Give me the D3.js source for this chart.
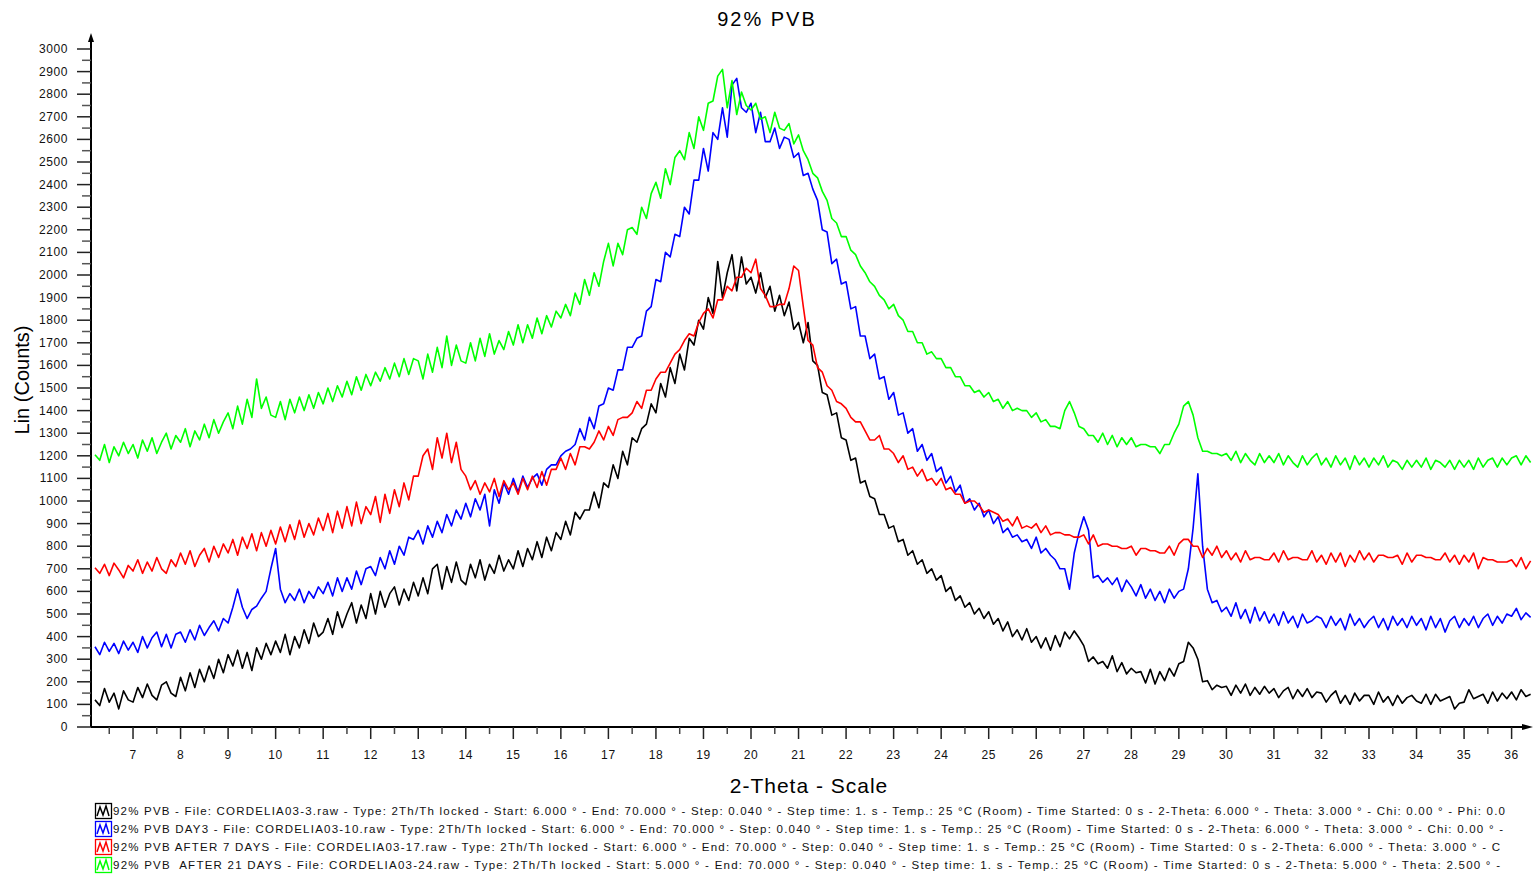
<!DOCTYPE html>
<html>
<head>
<meta charset="utf-8">
<script src="https://cdn.jsdelivr.net/npm/d3@7"></script>
<style>
  html, body { margin: 0; padding: 0; background: #fff; }
  svg { display: block; font-family: "Liberation Sans", Arial, sans-serif; }
</style>
</head>
<body>
<svg id="chart" width="1533" height="876"></svg>
<script>
// 2-theta grid of the series below (one value every 0.1 deg, 6.2 .. 36.4)
const twoThetaStart = 6.2;
const twoThetaStep = 0.1;

const xTicks = d3.range(7, 37);
const yTicks = d3.range(0, 3001, 100);

const seriesNames = [
  "92% PVB - File: CORDELIA03-3.raw - Type: 2Th/Th locked - Start: 6.000 ° - End: 70.000 ° - Step: 0.040 ° - Step time: 1. s - Temp.: 25 °C (Room) - Time Started: 0 s - 2-Theta: 6.000 ° - Theta: 3.000 ° - Chi: 0.00 ° - Phi: 0.0",
  "92% PVB DAY3 - File: CORDELIA03-10.raw - Type: 2Th/Th locked - Start: 6.000 ° - End: 70.000 ° - Step: 0.040 ° - Step time: 1. s - Temp.: 25 °C (Room) - Time Started: 0 s - 2-Theta: 6.000 ° - Theta: 3.000 ° - Chi: 0.00 ° -",
  "92% PVB AFTER 7 DAYS - File: CORDELIA03-17.raw - Type: 2Th/Th locked - Start: 6.000 ° - End: 70.000 ° - Step: 0.040 ° - Step time: 1. s - Temp.: 25 °C (Room) - Time Started: 0 s - 2-Theta: 6.000 ° - Theta: 3.000 ° - C",
  "92% PVB  AFTER 21 DAYS - File: CORDELIA03-24.raw - Type: 2Th/Th locked - Start: 5.000 ° - End: 70.000 ° - Step: 0.040 ° - Step time: 1. s - Temp.: 25 °C (Room) - Time Started: 0 s - 2-Theta: 5.000 ° - Theta: 2.500 ° -"
];

const countsBlack = [
  120, 95, 170, 110, 150, 80, 160, 120,
  110, 175, 130, 190, 140, 120, 185, 200, 150, 135,
  220, 160, 240, 175, 255, 200, 270, 215, 300, 240,
  320, 270, 340, 260, 330, 250, 350, 300, 370, 320,
  380, 330, 410, 320, 400, 350, 430, 370, 460, 400,
  420, 480, 410, 510, 440, 500, 550, 460, 540, 480,
  590, 500, 600, 530, 590, 620, 540, 610, 560, 640,
  580, 660, 590, 700, 720, 610, 710, 640, 730, 650,
  630, 720, 660, 740, 650, 720, 680, 760, 690, 740,
  700, 780, 710, 790, 740, 820, 750, 840, 780, 860,
  830, 910, 850, 950, 920, 960, 960, 1040, 970, 1080,
  1060, 1160, 1100, 1220, 1160, 1280, 1260, 1320, 1340, 1430,
  1390, 1520, 1460, 1590, 1520, 1650, 1580, 1720, 1690, 1800,
  1760, 1900, 1830, 2060, 1900, 2010, 2090, 1930, 2080, 1960,
  1990, 1920, 2010, 1900, 1950, 1840, 1910, 1820, 1880, 1760,
  1790, 1700, 1790, 1620, 1600, 1480, 1470, 1380, 1390, 1280,
  1270, 1180, 1190, 1080, 1090, 1020, 1010, 940, 940, 880,
  890, 820, 830, 760, 780, 720, 740, 680, 700, 650,
  670, 600, 620, 560, 580, 530, 550, 500, 525, 480,
  510, 455, 480, 425, 465, 400, 430, 385, 435, 375,
  400, 350, 395, 340, 405, 355, 420, 390, 425, 395,
  360, 290, 310, 280, 290, 260, 315, 245, 285, 235,
  260, 240, 245, 195, 255, 190, 245, 205, 260, 225,
  280, 290, 375, 350, 300, 200, 205, 165, 185, 175,
  180, 140, 185, 150, 190, 140, 175, 145, 180, 150,
  170, 130, 160, 175, 125, 165, 135, 170, 130, 155,
  150, 110, 140, 160, 105, 140, 100, 150, 115, 140,
  140, 100, 155, 110, 135, 95, 140, 105, 130, 140,
  115, 105, 145, 100, 145, 115, 125, 135, 80, 105,
  110, 165, 125, 135, 145, 105, 155, 115, 150, 125,
  155, 120, 165, 135, 145
];

const countsDay3 = [
  355, 320, 375, 335, 370, 325, 380, 340,
  375, 330, 400, 350, 395, 420, 355, 410, 350, 410,
  420, 375, 430, 385, 450, 405, 440, 470, 425, 480,
  460, 530, 610, 530, 480, 520, 535, 570, 600, 700,
  790, 610, 550, 590, 560, 610, 550, 600, 570, 620,
  590, 640, 580, 660, 600, 660, 610, 690, 630, 700,
  710, 670, 750, 700, 780, 720, 800, 760, 840, 830,
  870, 810, 890, 840, 910, 860, 940, 890, 960, 920,
  990, 930, 1010, 960, 1030, 890, 1050, 990, 1080, 1030,
  1100, 1040, 1110, 1060, 1100, 1120, 1070, 1140, 1160, 1160,
  1200, 1220, 1230, 1250, 1320, 1270, 1370, 1320, 1420, 1430,
  1500, 1490, 1580, 1580, 1680, 1680, 1720, 1730, 1840, 1860,
  1980, 1970, 2100, 2080, 2180, 2170, 2300, 2270, 2420, 2420,
  2560, 2460, 2630, 2600, 2740, 2610, 2840, 2870, 2740, 2720,
  2760, 2630, 2720, 2590, 2590, 2650, 2560, 2610, 2600, 2520,
  2540, 2440, 2450, 2380, 2330, 2200, 2190, 2050, 2070, 1960,
  1970, 1850, 1860, 1730, 1730, 1630, 1650, 1540, 1550, 1450,
  1480, 1380, 1390, 1300, 1320, 1220, 1250, 1180, 1210, 1130,
  1150, 1080, 1110, 1040, 1070, 990, 1010, 960, 990, 930,
  960, 900, 930, 860, 880, 840, 850, 820, 830, 790,
  840, 770, 790, 760, 740, 700, 700, 610, 770, 860,
  930, 870, 660, 670, 640, 660, 630, 660, 600, 650,
  620, 580, 630, 570, 610, 560, 600, 550, 610, 570,
  600, 610, 700, 880, 1120, 800, 610, 550, 560, 510,
  530, 490, 550, 480, 520, 460, 530, 470, 510, 460,
  500, 450, 510, 460, 490, 440, 500, 460, 470, 490,
  480, 440, 490, 450, 480, 430, 500, 450, 480, 440,
  470, 490, 440, 480, 430, 490, 450, 480, 440, 490,
  450, 480, 430, 490, 440, 480, 420, 470, 490, 440,
  480, 450, 490, 440, 480, 500, 450, 490, 460, 500,
  490, 525, 475, 505, 485
];

const counts7Days = [
  705, 680, 720, 670, 725, 695, 660, 715,
  690, 740, 680, 730, 690, 750, 700, 680, 740, 710,
  770, 720, 780, 710, 760, 790, 730, 800, 750, 810,
  770, 830, 760, 840, 790, 855, 780, 860, 800, 870,
  810, 885, 820, 895, 830, 915, 840, 900, 850, 925,
  870, 945, 860, 955, 880, 975, 890, 995, 900, 975,
  940, 1020, 905, 1030, 945, 1050, 975, 1080, 1005, 1110,
  1110, 1200, 1230, 1140, 1280, 1190, 1300, 1170, 1260, 1140,
  1110, 1050, 1090, 1030, 1080, 1040, 1100, 1020, 1090, 1050,
  1080, 1030, 1100, 1050, 1110, 1060, 1130, 1070, 1140, 1140,
  1190, 1140, 1210, 1160, 1240, 1240, 1230, 1260, 1310, 1270,
  1330, 1290, 1360, 1370, 1370, 1390, 1440, 1410, 1490, 1490,
  1540, 1570, 1570, 1610, 1650, 1670, 1710, 1740, 1730, 1790,
  1830, 1850, 1810, 1890, 1890, 1950, 1930, 1990, 1990, 2030,
  2010, 2070, 1940, 1910, 1860, 1860, 1870, 1870, 1940, 2040,
  2020, 1860, 1710, 1690, 1590, 1570, 1510, 1490, 1440, 1430,
  1410, 1370, 1350, 1350, 1310, 1270, 1270, 1290, 1230, 1230,
  1210, 1170, 1200, 1140, 1150, 1110, 1140, 1090, 1100, 1070,
  1100, 1050, 1060, 1030, 1030, 990, 1000, 1000, 980, 950,
  960, 950, 940, 910, 920, 890, 930, 880, 890, 880,
  900, 860, 890, 850, 860, 860, 850, 850, 840, 840,
  850, 810, 850, 800, 810, 810, 800, 800, 790, 790,
  800, 760, 790, 790, 780, 780, 770, 770, 800, 760,
  810, 830, 830, 800, 800, 750, 790, 760, 800, 750,
  780, 740, 770, 730, 780, 740, 750, 750, 740, 740,
  770, 730, 780, 740, 750, 750, 740, 740, 780, 730,
  760, 720, 770, 730, 770, 710, 760, 730, 780, 740,
  770, 730, 760, 760, 750, 750, 760, 720, 770, 730,
  760, 760, 750, 750, 740, 740, 770, 730, 760, 720,
  760, 730, 770, 700, 750, 740, 740, 730, 730, 730,
  740, 710, 750, 700, 735
];

const counts21Days = [
  1205, 1180, 1250, 1170, 1240, 1200, 1260, 1210,
  1250, 1190, 1270, 1220, 1280, 1210, 1260, 1300, 1230, 1290,
  1260, 1320, 1240, 1310, 1270, 1340, 1280, 1360, 1300, 1350,
  1390, 1320, 1420, 1340, 1450, 1370, 1540, 1410, 1460, 1380,
  1370, 1440, 1360, 1450, 1390, 1460, 1400, 1470, 1410, 1480,
  1430, 1500, 1440, 1510, 1460, 1530, 1470, 1550, 1490, 1560,
  1510, 1570, 1530, 1590, 1540, 1610, 1550, 1630, 1560, 1630,
  1620, 1540, 1650, 1570, 1680, 1590, 1730, 1600, 1690, 1620,
  1610, 1700, 1620, 1720, 1640, 1740, 1650, 1710, 1670, 1750,
  1690, 1780, 1700, 1780, 1720, 1810, 1740, 1820, 1770, 1840,
  1810, 1870, 1820, 1920, 1870, 1980, 1910, 2010, 1950, 2060,
  2140, 2040, 2140, 2090, 2200, 2210, 2180, 2300, 2250, 2360,
  2410, 2340, 2470, 2400, 2520, 2550, 2510, 2630, 2560, 2700,
  2640, 2760, 2770, 2880, 2910, 2740, 2860, 2710, 2810, 2750,
  2730, 2760, 2690, 2700, 2630, 2720, 2650, 2640, 2670, 2580,
  2620, 2550, 2510, 2450, 2430, 2370, 2330, 2250, 2230, 2170,
  2170, 2110, 2090, 2040, 2010, 1970, 1950, 1910, 1890, 1850,
  1870, 1820, 1800, 1750, 1750, 1700, 1700, 1650, 1660, 1630,
  1630, 1590, 1590, 1550, 1550, 1510, 1510, 1480, 1490, 1460,
  1480, 1440, 1450, 1410, 1440, 1400, 1410, 1400, 1400, 1370,
  1390, 1350, 1360, 1330, 1330, 1320, 1400, 1440, 1390, 1330,
  1320, 1290, 1290, 1260, 1300, 1250, 1290, 1240, 1280, 1250,
  1280, 1240, 1250, 1250, 1240, 1240, 1210, 1250, 1250, 1300,
  1340, 1420, 1440, 1380, 1280, 1220, 1220, 1210, 1210, 1200,
  1210, 1180, 1220, 1170, 1210, 1180, 1160, 1210, 1170, 1200,
  1170, 1210, 1160, 1200, 1170, 1150, 1200, 1160, 1190, 1210,
  1160, 1190, 1150, 1200, 1160, 1190, 1140, 1200, 1160, 1190,
  1150, 1190, 1160, 1200, 1150, 1180, 1170, 1140, 1180, 1150,
  1180, 1150, 1190, 1140, 1180, 1170, 1150, 1180, 1140, 1180,
  1150, 1180, 1140, 1190, 1150, 1180, 1190, 1150, 1190, 1160,
  1190, 1200, 1160, 1200, 1170
];

const allCounts = [countsBlack, countsDay3, counts7Days, counts21Days];
const colors = ["#000000", "#0000ff", "#ff0000", "#00ff00"];

const svg = d3.select("#chart");

const x = d3.scaleLinear().domain([6.116, 36.45]).range([91, 1533]);
const y = d3.scaleLinear().domain([0, 3000]).range([727, 49]);

// title
svg.append("text")
  .attr("x", 767).attr("y", 26)
  .attr("text-anchor", "middle")
  .style("font-size", "20px")
  .style("letter-spacing", "2px")
  .text("92% PVB");

// y axis
const yAxis = svg.append("g").attr("transform", "translate(91,0)");
yAxis.append("line")
  .attr("x1", 0).attr("x2", 0)
  .attr("y1", 727).attr("y2", 38)
  .attr("stroke", "#000").attr("stroke-width", 2);
yAxis.append("path")
  .attr("d", "M-3,42 L0,33 L3,42 Z")
  .attr("fill", "#000");
yAxis.selectAll(".minor")
  .data(d3.range(50, 3000, 100))
  .enter().append("line")
  .attr("x1", -9).attr("x2", 0)
  .attr("y1", d => y(d)).attr("y2", d => y(d))
  .attr("stroke", "#555").attr("stroke-width", 1.5);
yAxis.selectAll(".major")
  .data(yTicks)
  .enter().append("line")
  .attr("x1", -14).attr("x2", 0)
  .attr("y1", d => y(d)).attr("y2", d => y(d))
  .attr("stroke", "#222").attr("stroke-width", 1.5);
yAxis.selectAll(".ylab")
  .data(yTicks)
  .enter().append("text")
  .attr("x", -23).attr("y", d => y(d) + 4)
  .attr("text-anchor", "end")
  .style("font-size", "12px")
  .style("letter-spacing", "0.6px")
  .attr("fill", "#111")
  .text(d => d);

// x axis
const xAxis = svg.append("g").attr("transform", "translate(0,727)");
xAxis.append("line")
  .attr("x1", 91).attr("x2", 1527)
  .attr("y1", 0).attr("y2", 0)
  .attr("stroke", "#000").attr("stroke-width", 2);
xAxis.append("path")
  .attr("d", "M1522,-3 L1533,0 L1522,3 Z")
  .attr("fill", "#000");
xAxis.selectAll(".minor")
  .data(d3.range(6.5, 36.5, 1))
  .enter().append("line")
  .attr("x1", d => x(d)).attr("x2", d => x(d))
  .attr("y1", 0).attr("y2", 7)
  .attr("stroke", "#444").attr("stroke-width", 1.5);
xAxis.selectAll(".major")
  .data(xTicks)
  .enter().append("line")
  .attr("x1", d => x(d)).attr("x2", d => x(d))
  .attr("y1", 0).attr("y2", 12)
  .attr("stroke", "#222").attr("stroke-width", 1.5);
xAxis.selectAll(".xlab")
  .data(xTicks)
  .enter().append("text")
  .attr("x", d => x(d)).attr("y", 32)
  .attr("text-anchor", "middle")
  .style("font-size", "12px")
  .style("letter-spacing", "0.6px")
  .attr("fill", "#111")
  .text(d => d);

// axis titles
svg.append("text")
  .attr("x", 809).attr("y", 793)
  .attr("text-anchor", "middle")
  .style("font-size", "21px")
  .style("letter-spacing", "1px")
  .text("2-Theta - Scale");

svg.append("text")
  .attr("transform", "translate(29,380) rotate(-90)")
  .attr("text-anchor", "middle")
  .style("font-size", "20px")
  .text("Lin (Counts)");

// series
const line = d3.line()
  .x((d, i) => x(twoThetaStart + i * twoThetaStep))
  .y(d => y(d));

allCounts.forEach((counts, k) => {
  svg.append("path")
    .datum(counts)
    .attr("fill", "none")
    .attr("stroke", colors[k])
    .attr("stroke-width", 1.6)
    .attr("stroke-linejoin", "round")
    .attr("d", line);
});

// legend
const legendWidths = [1392, 1390, 1387, 1387];
const legend = svg.append("g");
seriesNames.forEach((name, k) => {
  const ly = 803 + k * 18;
  const g = legend.append("g").attr("transform", `translate(95,${ly})`);
  g.append("rect")
    .attr("x", 0.5).attr("y", 0.5)
    .attr("width", 16).attr("height", 15)
    .attr("fill", "#fff")
    .attr("stroke", colors[k]).attr("stroke-width", 1.3);
  g.append("path")
    .attr("d", "M2,13 L5,4 L8,12 L11,3 L14,13")
    .attr("fill", "none")
    .attr("stroke", colors[k]).attr("stroke-width", 1.5);
  g.append("text")
    .attr("x", 18).attr("y", 12)
    .attr("textLength", legendWidths[k])
    .attr("lengthAdjust", "spacing")
    .style("font-size", "11.5px")
    .style("white-space", "pre")
    .attr("fill", "#111")
    .text(name);
});
</script>
</body>
</html>
